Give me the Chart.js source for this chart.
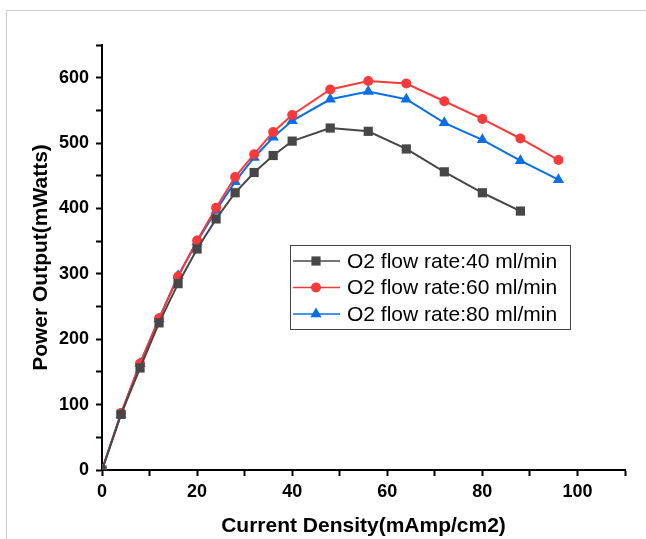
<!DOCTYPE html>
<html>
<head>
<meta charset="utf-8">
<script src="https://cdn.jsdelivr.net/npm/chart.js@4/dist/chart.umd.min.js"></script>
<style>
  html, body { margin: 0; padding: 0; background: #fff; }
  #wrap { position: relative; width: 646px; height: 539px; overflow: hidden; }
  #frame { position: absolute; left: 6px; top: 10px; width: 700px; height: 600px;
           border-left: 1px solid #cfcfcf; border-top: 1px solid #cfcfcf; pointer-events: none; }
</style>
</head>
<body>
<div id="wrap">
  <canvas id="powerChart"></canvas>
  <div id="frame"></div>
</div>
<script>
  // current density (mAmp/cm2) and power output (mWatts)
  var densities = [0, 4, 8, 12, 16, 20, 24, 28, 32, 36, 40, 48, 56, 64, 72, 80, 88, 96];
  var flow40 = [0, 85, 156, 225, 285, 338, 384, 424, 455, 481, 503, 523, 518, 491, 456, 424, 396];
  var flow60 = [0, 87, 163, 232, 296, 351, 401, 448, 483, 517, 543, 582, 595, 591, 564, 537, 507, 474];
  var flow80 = [0, 85, 163, 231, 297, 349, 397, 441, 478, 509, 534, 567, 579, 567, 531, 505, 473, 444];
  var seriesLabels = ['O2 flow rate:40 ml/min', 'O2 flow rate:60 ml/min', 'O2 flow rate:80 ml/min'];

  function toPoints(values) {
    return values.map(function (v, i) { return { x: densities[i], y: v }; });
  }

  function makeSet(label, values, color, style, radius) {
    return {
      label: label,
      data: toPoints(values),
      borderColor: color,
      backgroundColor: color,
      borderWidth: 2,
      pointStyle: style,
      pointRadius: radius,
      pointBorderWidth: 0,
      pointBackgroundColor: color,
      tension: 0
    };
  }

  // legend drawn inside the plot, like the Origin box
  var boxLegend = {
    id: 'boxLegend',
    afterDatasetsDraw: function (chart) {
      var ctx = chart.ctx;
      var x0 = 290, y0 = 245, w = 280, h = 84;
      ctx.save();
      ctx.fillStyle = '#fff';
      ctx.fillRect(x0, y0, w, h);
      ctx.strokeStyle = '#444';
      ctx.lineWidth = 1;
      ctx.strokeRect(x0 + 0.5, y0 + 0.5, w, h);
      chart.data.datasets.forEach(function (ds, i) {
        var y = y0 + 16 + i * 26.5;
        ctx.strokeStyle = ds.borderColor;
        ctx.lineWidth = 1.5;
        ctx.beginPath();
        ctx.moveTo(x0 + 3, y);
        ctx.lineTo(x0 + 50, y);
        ctx.stroke();
        ctx.fillStyle = ds.borderColor;
        Chart.helpers.drawPoint(ctx, { pointStyle: ds.pointStyle, radius: ds.pointRadius, borderWidth: 0, rotation: 0 }, x0 + 26, y);
        ctx.fillStyle = '#000';
        ctx.font = '21px "Liberation Sans", Arial, sans-serif';
        ctx.textBaseline = 'middle';
        ctx.textAlign = 'left';
        ctx.fillText(ds.label, x0 + 57, y + 1);
      });
      ctx.restore();
    }
  };

  var tickFont = { family: '"Liberation Sans", Arial, sans-serif', size: 18, weight: 'bold' };
  var titleFont = { family: '"Liberation Sans", Arial, sans-serif', size: 21, weight: 'bold' };

  new Chart(document.getElementById('powerChart'), {
    type: 'line',
    data: {
      datasets: [
        makeSet(seriesLabels[0], flow40, '#474747', 'rect', 6.5),
        makeSet(seriesLabels[1], flow60, '#fa3a3a', 'circle', 5),
        makeSet(seriesLabels[2], flow80, '#0a6ee6', 'triangle', 6.5)
      ]
    },
    options: {
      responsive: true,
      maintainAspectRatio: false,
      animation: false,
      layout: { padding: { left: 0, right: 21, top: 45, bottom: 0 } },
      plugins: {
        legend: { display: false },
        tooltip: { enabled: false }
      },
      scales: {
        x: {
          type: 'linear',
          min: 0,
          max: 110,
          afterFit: function (scale) { scale.height = 69; },
          ticks: {
            stepSize: 10,
            autoSkip: false,
            maxRotation: 0,
            padding: 5,
            color: '#000',
            font: tickFont,
            callback: function (v) { return v % 20 === 0 ? v : ''; }
          },
          grid: { drawOnChartArea: false, drawTicks: true, tickLength: 6, tickWidth: 2, tickColor: '#000' },
          border: { display: true, color: '#000', width: 2 },
          title: {
            display: true,
            text: 'Current Density(mAmp/cm2)',
            color: '#000',
            font: titleFont,
            padding: { top: 0, bottom: 0 }
          }
        },
        y: {
          min: 0,
          max: 650,
          afterFit: function (scale) { scale.width = 102; },
          ticks: {
            stepSize: 50,
            autoSkip: false,
            padding: 7,
            color: '#000',
            font: tickFont,
            callback: function (v) { return v % 100 === 0 ? v : ''; }
          },
          grid: { drawOnChartArea: false, drawTicks: true, tickLength: 6, tickWidth: 2, tickColor: '#000' },
          border: { display: true, color: '#000', width: 2 },
          title: {
            display: true,
            text: 'Power Output(mWatts)',
            color: '#000',
            font: titleFont,
            padding: { top: 29, bottom: 0 }
          }
        }
      }
    },
    plugins: [boxLegend]
  });
</script>
</body>
</html>
